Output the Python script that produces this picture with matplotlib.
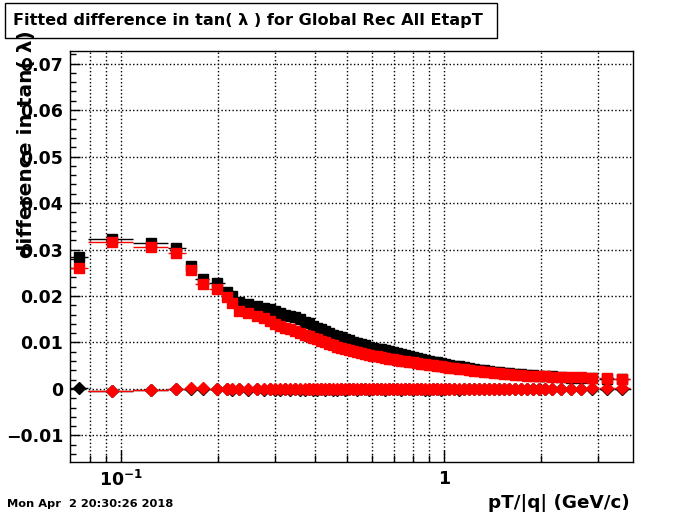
import numpy as np
import matplotlib
matplotlib.use("Agg")
from matplotlib import pyplot as plt
from matplotlib.patches import Rectangle
from matplotlib.ticker import FixedLocator, NullFormatter

plt.rcParams['font.family'] = ['DejaVu Sans']
plt.rcParams['font.weight'] = 'bold'

# pT/|q| bin positions (GeV/c)
pt = [0.0741, 0.0938, 0.1238, 0.148, 0.165, 0.1795, 0.198, 0.213, 0.221, 0.232,
      0.247, 0.264, 0.277, 0.289, 0.300, 0.311, 0.322, 0.334, 0.346, 0.358,
      0.371, 0.382, 0.393, 0.404, 0.416, 0.428, 0.441, 0.453, 0.466, 0.480,
      0.494, 0.508, 0.523, 0.538, 0.553, 0.569, 0.586, 0.603, 0.620, 0.638,
      0.657, 0.676, 0.695, 0.715, 0.736, 0.757, 0.779, 0.802, 0.825, 0.849,
      0.873, 0.899, 0.925, 0.951, 0.979, 1.007, 1.036, 1.074, 1.113, 1.153,
      1.195, 1.239, 1.283, 1.330, 1.378, 1.428, 1.480, 1.534, 1.590, 1.659,
      1.731, 1.806, 1.886, 1.968, 2.054, 2.160, 2.303, 2.473, 2.657, 2.872,
      3.197, 3.557]

# width (sigma) of tan(lambda) difference
sig_black = [0.0284, 0.0323, 0.0314, 0.0303, 0.0265, 0.0237, 0.0228, 0.0209, 0.0200, 0.0188,
             0.0183, 0.0178, 0.0175, 0.0171, 0.0167, 0.0164, 0.0160, 0.0157, 0.0154, 0.0150,
             0.0145, 0.0141, 0.0136, 0.0132, 0.0128, 0.0124, 0.0120, 0.0117, 0.0114, 0.0111,
             0.0108, 0.0105, 0.0102, 0.0099, 0.0096, 0.0094, 0.0091, 0.0089, 0.0087, 0.0085,
             0.0083, 0.0081, 0.0079, 0.0077, 0.0075, 0.0073, 0.0071, 0.0069, 0.0067, 0.0065,
             0.0063, 0.0061, 0.0059, 0.0057, 0.0055, 0.0054, 0.0052, 0.0050, 0.0049, 0.0047,
             0.0045, 0.0043, 0.0041, 0.0040, 0.0038, 0.0037, 0.0036, 0.0035, 0.0034, 0.0033,
             0.0032, 0.0031, 0.0030, 0.0029, 0.0028, 0.0027, 0.0025, 0.0024, 0.0023, 0.0023,
             0.0022, 0.0021]
sig_red = [0.0260, 0.0316, 0.0305, 0.0292, 0.0256, 0.0226, 0.0215, 0.0198, 0.0185, 0.0168,
           0.0163, 0.0157, 0.0152, 0.0146, 0.0140, 0.0135, 0.0132, 0.0128, 0.0125, 0.0121,
           0.0117, 0.0113, 0.0110, 0.0107, 0.0104, 0.0100, 0.0097, 0.0094, 0.0091, 0.0089,
           0.0086, 0.0084, 0.0081, 0.0079, 0.0077, 0.0075, 0.0073, 0.0071, 0.0070, 0.0068,
           0.0066, 0.0065, 0.0064, 0.0062, 0.0061, 0.0060, 0.0058, 0.0057, 0.0056, 0.0054,
           0.0053, 0.0052, 0.0051, 0.0050, 0.0049, 0.0047, 0.0046, 0.0045, 0.0043, 0.0042,
           0.0040, 0.0039, 0.0038, 0.0037, 0.0036, 0.0035, 0.0034, 0.0033, 0.0032, 0.0031,
           0.0030, 0.0029, 0.0028, 0.0028, 0.0027, 0.0026, 0.0026, 0.0025, 0.0025, 0.0024,
           0.0024, 0.0022]

# mean of tan(lambda) difference
mean_black = [0.0002, -0.0004, -0.0002, 0.0000, 0.0001, 0.0001, -0.0001, -0.0001, -0.0002, -0.0001,
              -0.0002, -0.0001, -0.0002, -0.0001, -0.0002, -0.0002, -0.0001, -0.0002, -0.0001, -0.0002,
              -0.0002, -0.0001, -0.0002, -0.0002, -0.0001, -0.0002, -0.0001, -0.0002, -0.0002, -0.0001,
              -0.0002, -0.0001, -0.0001, -0.0002, -0.0001, -0.0001, -0.0002, -0.0001, -0.0001, -0.0001,
              -0.0002, -0.0001, -0.0001, -0.0001, -0.0002, -0.0001, -0.0001, -0.0002, -0.0001, -0.0001,
              -0.0002, -0.0002, -0.0001, -0.0001, -0.0002, -0.0001, -0.0001, -0.0001, -0.0002, -0.0001,
              -0.0001, -0.0001, -0.0001, -0.0001, -0.0001, -0.0001, -0.0001, -0.0001, -0.0001, -0.0001,
              -0.0001, 0.0000, -0.0001, 0.0000, 0.0000, 0.0000, -0.0001, 0.0000, -0.0001, 0.0000,
              0.0000, 0.0000]
mean_red = [np.nan, -0.0004, -0.0003, 0.0000, 0.0002, 0.0002, 0.0000, 0.0000, 0.0000, 0.0000,
            -0.0001, 0.0000, -0.0001, 0.0000, -0.0001, -0.0001, 0.0000, -0.0001, 0.0000, -0.0001,
            -0.0001, 0.0000, -0.0001, -0.0001, 0.0000, -0.0001, 0.0000, -0.0001, -0.0001, 0.0000,
            -0.0001, 0.0000, 0.0000, -0.0001, 0.0000, 0.0000, -0.0001, 0.0000, 0.0000, 0.0000,
            -0.0001, 0.0000, 0.0000, 0.0000, -0.0001, 0.0000, 0.0000, -0.0001, 0.0000, 0.0000,
            -0.0001, -0.0001, 0.0000, 0.0000, -0.0001, 0.0000, 0.0000, 0.0000, 0.0000, 0.0000,
            0.0000, 0.0000, 0.0000, 0.0000, 0.0000, 0.0000, 0.0000, 0.0000, 0.0000, 0.0000,
            0.0000, 0.0001, 0.0000, 0.0001, 0.0001, 0.0001, 0.0001, 0.0001, 0.0001, 0.0002,
            0.0002, 0.0002]

# horizontal bin half-widths (only the wide bins show)
xlo = [0.0050, 0.0147, 0.0150, 0.0082, 0.0060, 0.0100, 0.0110] + [0.0] * 72 + [0.11, 0.17, 0.19]
xhi = [0.0050, 0.0151, 0.0160, 0.0110, 0.0045, 0.0075, 0.0120] + [0.0] * 72 + [0.12, 0.17, 0.22]

fig = plt.figure(figsize=(7.0, 5.14), dpi=100)
ax = fig.add_axes([0.1, 0.1012, 0.804, 0.7996])

xerr = [xlo, xhi]
ax.errorbar(pt, sig_black, xerr=xerr, fmt='s', color='black', ms=6.6, elinewidth=1, capsize=0)
ax.errorbar(pt, sig_red, xerr=xerr, fmt='s', color='red', ms=6.6, elinewidth=1, capsize=0)
ax.errorbar(pt, mean_black, xerr=xerr, fmt='D', color='black', ms=6.0, elinewidth=1, capsize=0)
ax.errorbar(pt, mean_red, xerr=xerr, fmt='D', color='red', ms=6.0, elinewidth=1, capsize=0)

ax.set_xscale('log')
ax.set_xlim(0.0695, 3.85)
ax.set_ylim(-0.0157, 0.0727)

ax.xaxis.set_major_locator(FixedLocator([0.1, 1.0]))
ax.set_xticklabels([r'$\mathbf{10^{-1}}$', '1'])
ax.xaxis.set_minor_locator(FixedLocator([0.08, 0.09, 0.2, 0.3, 0.4, 0.5, 0.6, 0.7, 0.8, 0.9, 2, 3]))
ax.xaxis.set_minor_formatter(NullFormatter())

yt = [-0.01, 0, 0.01, 0.02, 0.03, 0.04, 0.05, 0.06, 0.07]
ax.set_yticks(yt)
ax.set_yticklabels(['\u22120.01', '0', '0.01', '0.02', '0.03', '0.04', '0.05', '0.06', '0.07'])
ax.yaxis.set_minor_locator(FixedLocator(np.arange(-0.014, 0.0721, 0.002)))

ax.tick_params(which='both', direction='in', top=False, right=False, labelsize=12.5, width=1)
ax.tick_params(axis='y', which='major', length=7.5, pad=5)
ax.tick_params(axis='y', which='minor', length=4)
ax.tick_params(axis='x', which='major', length=9, pad=6)
ax.tick_params(axis='x', which='minor', length=5)
for lab in ax.get_xticklabels() + ax.get_yticklabels():
    lab.set_fontweight('bold')

ax.grid(True, axis='y', which='major', ls=':', color='black', lw=1)
ax.grid(True, axis='x', which='both', ls=':', color='black', lw=1)
ax.set_axisbelow(True)
for s in ax.spines.values():
    s.set_linewidth(1)

# title box
fig.add_artist(Rectangle((5 / 700, 1 - 38 / 514), 492 / 700, 35 / 514,
                         transform=fig.transFigure, fill=False, lw=1, ec='black'))
fig.text(13 / 700, 1 - 21 / 514, 'Fitted difference in tan( \u03bb ) for Global Rec All EtapT',
         fontsize=11.6, weight='bold', va='center', ha='left')

fig.text(27 / 700, 1 - 30 / 514, 'difference in tan( \u03bb)', rotation=90,
         ha='center', va='top', fontsize=14.5, weight='bold')
fig.text(630 / 700, 1 - 503 / 514, 'pT/|q| (GeV/c)', ha='right', va='center',
         fontsize=13.2, weight='bold')
fig.text(7 / 700, 1 - 504 / 514, 'Mon Apr  2 20:30:26 2018', ha='left', va='center',
         fontsize=8.2, weight='bold')

fig.savefig('out.png', dpi=100)
